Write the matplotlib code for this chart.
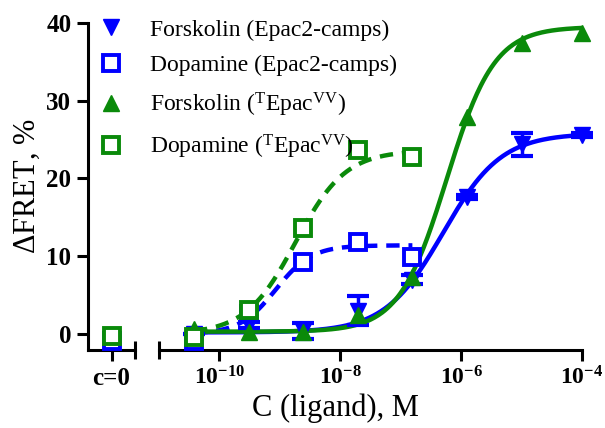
import numpy as np
import matplotlib.pyplot as plt
from matplotlib.lines import Line2D

plt.rcParams['font.family'] = 'Liberation Serif'
plt.rcParams['mathtext.fontset'] = 'custom'
plt.rcParams['mathtext.rm'] = 'Liberation Serif'
plt.rcParams['mathtext.bf'] = 'Liberation Serif:bold'
plt.rcParams['mathtext.it'] = 'Liberation Serif:italic'

BLUE = '#0000ff'
GREEN = '#0a8a0a'

# concentrations, M (1:8 dilution series)
conc = [3.81e-11, 3.05e-10, 2.44e-9, 1.95e-8, 1.56e-7, 1.25e-6, 1e-5, 1e-4]
dopa_conc = conc[:5]

# dFRET, %
forsk_epac2 = [0.0, 1.2, 0.4, 3.0, 7.0, 17.6, 24.4, 25.6]
forsk_epac2_err = [0.0, 0.4, 1.0, 1.9, 0.6, 0.3, 1.5, 0.3]
forsk_tepac = [0.6, 0.3, 0.3, 2.4, 7.3, 27.9, 37.4, 38.7]
dopa_epac2 = [-0.9, 2.6, 9.3, 11.8, 9.9]
dopa_tepac = [-0.4, 3.1, 13.6, 23.7, 22.8]

# values without ligand (c=0)
c0_dopa_epac2 = -0.9
c0_dopa_tepac = -0.3

# sigmoid fits: bottom, top, logEC50, hill
fit_forsk_epac2 = (0.2, 25.8, -6.3, 0.9)
fit_forsk_tepac = (0.3, 39.5, -6.24, 1.1)
fit_dopa_epac2 = (0.0, 11.4, -9.07, 1.45)
fit_dopa_tepac = (0.0, 23.6, -8.74, 1.05)

labels = ['Forskolin (Epac2-camps)', 'Dopamine (Epac2-camps)',
          r'Forskolin ($^{\mathrm{T}}$Epac$^{\mathrm{VV}}$)',
          r'Dopamine ($^{\mathrm{T}}$Epac$^{\mathrm{VV}}$)']


def sigmoid(x, p):
    bottom, top, logec, hill = p
    return bottom + (top - bottom) / (1 + 10 ** (hill * (logec - np.log10(x))))


ylim = (-2.06, 40)
fig = plt.figure(figsize=(6.05, 4.28), dpi=100)
axL = fig.add_axes([88 / 605, 78 / 428, 47 / 605, 327 / 428])
axR = fig.add_axes([159 / 605, 78 / 428, 423 / 605, 327 / 428])

lw_ax = 2.2
for ax in (axL, axR):
    ax.set_ylim(*ylim)
    ax.spines['top'].set_visible(False)
    ax.spines['right'].set_visible(False)
    for s in ax.spines.values():
        s.set_linewidth(lw_ax)
    ax.tick_params(direction='out', length=8, width=lw_ax, pad=4)
    ax.patch.set_alpha(0)

# left part: c=0
axL.set_xlim(0, 1)
axL.set_xticks([0.5])
axL.set_xticklabels(['c=0'], fontsize=18, fontweight='bold')
axL.set_yticks([0, 10, 20, 30, 40])
axL.set_yticklabels(['0', '10', '20', '30', '40'], fontsize=18, fontweight='bold')
axL.plot(1, 0, marker='|', ms=13, mew=lw_ax, color='k', transform=axL.transAxes, clip_on=False)

ms = 11
mew = 2.8
axL.plot([0.5], [c0_dopa_epac2], color=BLUE, marker='s', ms=ms, mfc='white', mew=mew,
         clip_on=False, zorder=3)
axL.plot([0.5], [c0_dopa_tepac], color=GREEN, marker='s', ms=ms, mfc='white', mew=mew,
         clip_on=False, zorder=4)

# right part: log concentration
axR.set_xscale('log')
axR.set_xlim(1e-11, 1e-4)
axR.spines['left'].set_visible(False)
axR.set_yticks([])
axR.minorticks_off()
axR.set_xticks([1e-10, 1e-8, 1e-6, 1e-4])
axR.set_xticklabels([r'$\mathbf{10^{-10}}$', r'$\mathbf{10^{-8}}$',
                     r'$\mathbf{10^{-6}}$', r'$\mathbf{10^{-4}}$'], fontsize=17)
axR.plot(0, 0, marker='|', ms=13, mew=lw_ax, color='k', transform=axR.transAxes, clip_on=False)

xs = np.logspace(np.log10(conc[0]), -4, 300)
xd = np.logspace(np.log10(conc[0]), np.log10(dopa_conc[-1]), 200)
lw = 3.2

axR.plot(xs, sigmoid(xs, fit_forsk_epac2), color=BLUE, lw=lw, zorder=2)
axR.plot(xd, sigmoid(xd, fit_dopa_epac2), color=BLUE, lw=lw, dashes=(3, 2), zorder=2)
axR.plot(xs, sigmoid(xs, fit_forsk_tepac), color=GREEN, lw=lw, zorder=2)
axR.plot(xd, sigmoid(xd, fit_dopa_tepac), color=GREEN, lw=lw, dashes=(3, 2), zorder=2)

axR.errorbar(conc, forsk_epac2, yerr=forsk_epac2_err, ls='none', color=BLUE, marker='v', ms=ms,
             elinewidth=2.5, capsize=8, capthick=3, clip_on=False, zorder=3)
axR.plot(dopa_conc, dopa_epac2, ls='none', color=BLUE, marker='s', ms=ms,
         mfc='white', mew=mew, clip_on=False, zorder=3)
axR.plot(conc, forsk_tepac, ls='none', color=GREEN, marker='^', ms=ms, clip_on=False, zorder=4)
axR.plot(dopa_conc, dopa_tepac, ls='none', color=GREEN, marker='s', ms=ms, mfc='white', mew=mew,
         clip_on=False, zorder=4)

handles = [
    Line2D([], [], ls='none', color=BLUE, marker='v', ms=ms),
    Line2D([], [], ls='none', color=BLUE, marker='s', ms=ms, mfc='white', mew=mew),
    Line2D([], [], ls='none', color=GREEN, marker='^', ms=ms),
    Line2D([], [], ls='none', color=GREEN, marker='s', ms=ms, mfc='white', mew=mew),
]
fig.legend(handles, labels, loc='upper left', bbox_to_anchor=(100 / 605, 1 - 19 / 428),
           frameon=False, fontsize=17, borderpad=0, borderaxespad=0, handlelength=0.95,
           handletextpad=1.15, labelspacing=0.6)

fig.text(335 / 605, 0.045, 'C (ligand), M', ha='center', va='center', fontsize=22)
fig.text(27 / 605, (428 - 186) / 428, r'$\Delta$FRET, %', ha='center', va='center',
         rotation=90, fontsize=22)

fig.savefig('out.png', dpi=100)
